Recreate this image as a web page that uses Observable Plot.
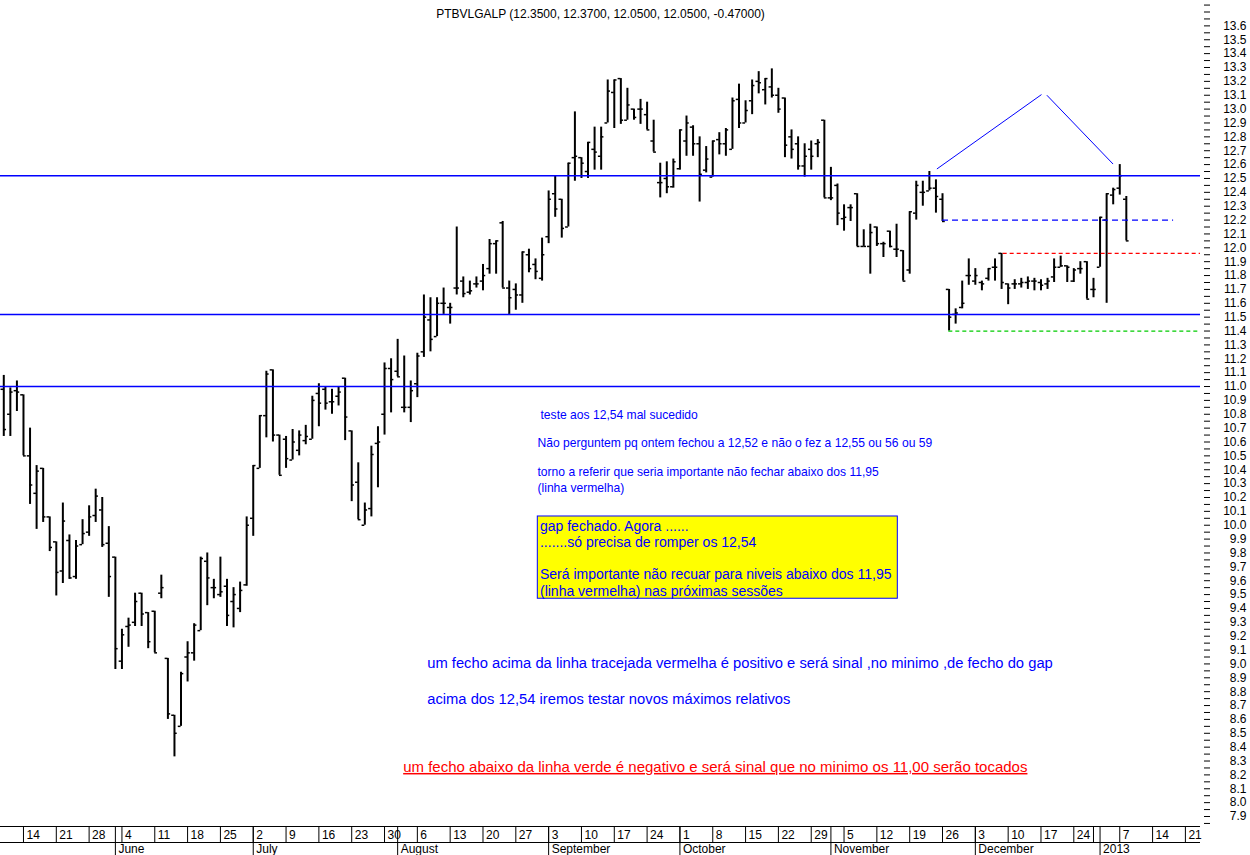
<!DOCTYPE html>
<html><head><meta charset="utf-8">
<script src="https://cdn.jsdelivr.net/npm/d3@7"></script>
<script src="https://cdn.jsdelivr.net/npm/@observablehq/plot@0.6"></script>
<style>
body{margin:0;background:#fff;}
#chart{width:1250px;height:855px;}
</style>
</head><body><div id="chart"></div>
<script>
// ---------------- data ----------------
const symbol = "PTBVLGALP";
// daily bars, 9 May 2012 .. 8 Jan 2013 (trading-day index 0..171)
const opens = [10.98,10.80,10.97,10.94,10.50,10.23,10.41,10.06,9.88,9.67,
9.89,9.63,9.86,9.95,10.07,10.11,9.87,9.77,9.02,9.27,
9.30,9.51,9.37,9.38,9.51,9.04,8.63,8.55,9.05,9.08,
9.24,9.74,9.55,9.50,9.56,9.45,9.40,9.57,10.05,10.41,
10.79,11.12,10.65,10.62,10.47,10.54,10.61,10.62,10.95,10.98,
10.89,10.93,11.06,10.68,10.31,10.00,10.12,10.59,10.80,11.13,
11.11,10.85,10.85,11.02,11.25,11.48,11.36,11.60,11.57,11.71,
11.76,11.68,11.74,11.76,11.85,12.03,12.18,11.71,11.70,11.66,
11.95,11.88,11.78,12.08,12.39,12.35,12.15,12.65,12.65,12.55,
12.71,12.66,12.90,13.12,13.22,12.92,13.00,13.00,12.96,12.77,
12.47,12.50,12.44,12.57,12.77,12.87,12.75,12.56,12.51,12.78,
12.75,12.71,13.07,12.90,13.06,13.20,13.14,13.16,13.10,13.08,
12.80,12.75,12.59,12.71,12.75,12.92,12.36,12.45,12.21,12.29,
12.39,12.01,12.01,12.15,12.03,12.12,11.99,11.98,11.84,12.25,
12.40,12.41,12.43,12.35,11.70,11.52,11.57,11.80,11.76,11.75,
11.78,11.86,11.96,11.74,11.74,11.74,11.75,11.76,11.75,11.74,
11.79,11.86,11.87,11.76,11.85,11.90,11.70,11.86,12.20,12.38,
12.43,12.35];
const highs = [11.08,10.99,11.04,10.94,10.70,10.43,10.41,10.06,9.88,10.16,
9.93,9.89,10.04,10.14,10.26,10.20,9.99,9.77,9.25,9.33,
9.51,9.51,9.37,9.38,9.64,9.04,8.63,8.94,9.16,9.29,
9.77,9.80,9.61,9.77,9.61,9.55,9.59,10.06,10.43,10.79,
11.11,11.12,10.65,10.64,10.69,10.68,10.72,10.93,11.02,11.00,
10.98,11.00,11.06,10.68,10.45,10.16,10.57,10.71,11.17,11.20,
11.34,11.22,11.04,11.24,11.66,11.64,11.64,11.71,11.60,12.15,
11.79,11.76,11.79,11.88,12.06,12.05,12.19,11.76,11.74,11.97,
11.99,11.92,12.07,12.41,12.52,12.35,12.61,12.98,12.65,12.76,
12.87,12.87,13.21,13.21,13.22,13.15,13.00,13.07,13.05,12.92,
12.61,12.62,12.64,12.85,12.95,12.88,12.80,12.73,12.77,12.83,
12.86,13.08,13.18,13.06,13.21,13.27,13.22,13.29,13.15,13.08,
12.85,12.80,12.75,12.77,12.78,12.92,12.58,12.46,12.31,12.31,
12.39,12.13,12.17,12.15,12.04,12.12,12.17,11.98,12.26,12.48,
12.48,12.55,12.49,12.39,11.70,11.56,11.76,11.92,11.85,11.76,
11.85,11.92,11.96,11.74,11.77,11.78,11.79,11.78,11.77,11.78,
11.92,11.94,11.87,11.85,11.90,11.90,11.78,12.22,12.39,12.43,
12.60,12.37];
const lows = [10.64,10.64,10.82,10.50,10.15,9.97,10.02,9.81,9.49,9.58,
9.61,9.61,9.86,9.92,10.02,9.84,9.48,8.96,8.96,9.12,
9.27,9.27,9.11,9.08,9.47,8.60,8.33,8.55,8.87,9.02,
9.24,9.42,9.47,9.48,9.27,9.26,9.37,9.56,9.92,10.41,
10.63,10.60,10.36,10.41,10.47,10.50,10.58,10.62,10.71,10.83,
10.80,10.86,10.61,10.17,10.04,10.00,10.06,10.27,10.65,10.81,
11.07,10.81,10.74,10.92,11.21,11.25,11.36,11.52,11.45,11.66,
11.64,11.66,11.71,11.69,11.81,11.81,11.71,11.52,11.55,11.60,
11.82,11.77,11.76,12.03,12.22,12.07,12.15,12.48,12.50,12.50,
12.56,12.56,12.90,12.86,12.89,12.92,12.92,12.89,12.85,12.69,
12.36,12.39,12.43,12.56,12.66,12.66,12.33,12.54,12.51,12.67,
12.66,12.71,12.86,12.90,12.96,13.11,13.03,13.08,12.97,12.65,
12.64,12.56,12.51,12.56,12.65,12.36,12.34,12.16,12.12,12.19,
12.01,12.01,11.81,12.01,11.93,12.00,11.93,11.76,11.81,12.20,
12.30,12.41,12.25,12.19,11.40,11.45,11.56,11.73,11.73,11.69,
11.76,11.76,11.70,11.59,11.70,11.71,11.70,11.69,11.69,11.70,
11.75,11.86,11.75,11.75,11.81,11.63,11.64,11.86,11.60,12.31,
12.38,12.05];
const closes = [10.69,10.96,10.96,10.50,10.29,10.39,10.06,9.84,9.66,10.03,
9.62,9.85,9.94,10.06,10.21,9.86,9.63,9.11,9.21,9.28,
9.45,9.36,9.16,9.08,9.55,8.64,8.50,8.93,9.08,9.28,
9.76,9.62,9.55,9.52,9.35,9.50,9.53,10.00,10.43,10.79,
11.09,10.65,10.36,10.48,10.60,10.65,10.64,10.90,10.88,10.88,
10.89,10.96,10.78,10.29,10.04,10.11,10.51,10.60,11.13,11.05,
11.07,10.85,10.97,11.22,11.50,11.34,11.60,11.60,11.57,11.71,
11.67,11.69,11.74,11.80,12.03,12.05,11.71,11.64,11.66,11.97,
11.85,11.83,11.95,12.35,12.28,12.14,12.61,12.66,12.61,12.76,
12.69,12.80,13.13,13.21,12.92,13.03,12.94,13.00,12.85,12.69,
12.47,12.44,12.62,12.85,12.90,12.75,12.53,12.64,12.77,12.75,
12.85,13.06,12.90,12.99,13.17,13.19,13.22,13.10,13.00,12.74,
12.71,12.59,12.66,12.66,12.76,12.36,12.36,12.25,12.22,12.29,
12.01,12.01,12.11,12.03,12.03,12.01,11.99,11.76,12.26,12.45,
12.40,12.43,12.37,12.19,11.50,11.53,11.60,11.80,11.80,11.74,
11.85,11.86,11.75,11.71,11.74,11.75,11.76,11.76,11.73,11.76,
11.86,11.87,11.86,11.84,11.85,11.63,11.70,12.22,12.39,12.42,
12.52,12.05];

// x axis: Mondays (trading-day index) and their labels
const weekIdx    = [3,8,13,18,23,28,33,38,43,48,53,58,63,68,73,78,83,88,93,98,103,108,113,118,123,128,133,138,143,148,153,158,163,166,170,175,180];
const weekLabels = ["14","21","28","4","11","18","25","2","9","16","23","30","6","13","20","27","3","10","17","24","1","8","15","22","29","5","12","19","26","3","10","17","24","","7","14","21"];
// first trading day of each month
const monthIdx    = [17,38,60,83,103,126,148,167];
const monthLabels = ["June","July","August","September","October","November","December","2013"];

// y axis
const yLabelTicks = d3.range(79, 137).map(d => d / 10);       // 7.9 .. 13.6
const yMinorTicks = d3.range(157, 276).map(d => d / 20);      // 7.85 .. 13.75

// drawn annotations (price levels and trend lines)
const supportLevels = [12.52, 11.52, 11.0];
const dashedLevels = [
  {name: "blue",  y: 12.20, from: 143.0,  to: 178.2},
  {name: "red",   y: 11.96, from: 152.24, to: 182.3},
  {name: "green", y: 11.40, from: 143.96, to: 182.3}
];
const trendPoints = [
  {seg: "a", x: 142.19, y: 12.570}, {seg: "a", x: 158.03, y: 13.103},
  {seg: "b", x: 158.94, y: 13.098}, {seg: "b", x: 168.94, y: 12.606}
];
const smallNotes = [
  {x: 81.76, y: 10.791, text: "teste aos 12,54 mal sucedido"},
  {x: 81.30, y: 10.589, text: "Não perguntem pq ontem fechou a 12,52 e não o fez a 12,55 ou 56 ou 59"},
  {x: 81.30, y: 10.380, text: "torno a referir que seria importante não fechar abaixo dos 11,95"},
  {x: 81.30, y: 10.265, text: "(linha vermelha)"}
];
const noteBox = [{x1: 81.35, x2: 136.19, y1: 10.063, y2: 9.470}];
const boxLines = [
  {x: 81.68, y: 9.993, text: "gap fechado. Agora ......"},
  {x: 81.68, y: 9.878, text: ".......só precisa de romper os 12,54"},
  {x: 81.68, y: 9.645, text: "Será importante não recuar para niveis abaixo dos 11,95"},
  {x: 81.68, y: 9.524, text: "(linha vermelha) nas próximas sessões"}
];
const bigNotes = [
  {x: 64.50, y: 9.005, text: "um fecho acima da linha tracejada vermelha é positivo e será sinal ,no minimo ,de fecho do gap"},
  {x: 64.50, y: 8.742, text: "acima dos 12,54 iremos testar novos máximos relativos"}
];
const redNotes = [
  {x: 60.84, y: 8.256, text: "um fecho abaixo da linha verde é negativo e será sinal que no minimo os 11,00 serão tocados"}
];

// ---------------- styles ----------------
const dashStyle = {
  blue:  {stroke: "#0000ff", dash: "6,4"},
  red:   {stroke: "#ff0000", dash: "4,3"},
  green: {stroke: "#00cc00", dash: "4,3"}
};
const BLUE = "#0000ff";

// ---------------- build ----------------
const bars = opens.map((o, i) => ({i, o, h: highs[i], l: lows[i], c: closes[i]}));
const n = bars.length;
const last = bars[n - 1];
const change = (closes[n - 1] - closes[n - 2]).toFixed(5);
const title = `${symbol} (${last.o.toFixed(4)}, ${last.h.toFixed(4)}, ${last.l.toFixed(4)}, ${last.c.toFixed(4)}, ${change})`;

const weekLabelMap = new Map(weekIdx.map((d, k) => [d, weekLabels[k]]));
const monthLabelMap = new Map(monthIdx.map((d, k) => [d, monthLabels[k]]));
const weekLabeled = weekIdx.filter((d, k) => weekLabels[k] !== "");

const yDomain = [7.828, 13.783];

const chart = Plot.plot({
  width: 1250,
  height: 855,
  marginTop: 0,
  marginRight: 50,
  marginBottom: 29,
  marginLeft: 0,
  style: {fontFamily: "'Liberation Sans', Arial, sans-serif", fontSize: "12px", background: "#ffffff", color: "#000000", overflow: "visible"},
  x: {domain: [-0.5, 182.3], axis: null, label: null},
  y: {domain: yDomain, axis: null, label: null},
  marks: [
    // notes
    Plot.rect(noteBox, {x1: "x1", x2: "x2", y1: "y1", y2: "y2", fill: "#ffff00", stroke: BLUE, strokeWidth: 1}),
    Plot.text(boxLines, {x: "x", y: "y", text: "text", fill: BLUE, fontSize: 14, textAnchor: "start"}),
    Plot.text(smallNotes, {x: "x", y: "y", text: "text", fill: BLUE, fontSize: 12.1, textAnchor: "start"}),
    Plot.text(bigNotes, {x: "x", y: "y", text: "text", fill: BLUE, fontSize: 14.75, textAnchor: "start"}),
    Plot.text(redNotes, {x: "x", y: "y", text: "text", fill: "#ff0000", fontSize: 15, textAnchor: "start"}),
    // OHLC bars
    Plot.ruleX(bars, {x: "i", y1: "l", y2: "h", stroke: "#000", strokeWidth: 2}),
    Plot.ruleY(bars, {y: "o", x1: d => d.i - 0.42, x2: "i", stroke: "#000", strokeWidth: 1.5}),
    Plot.ruleY(bars, {y: "c", x1: "i", x2: d => d.i + 0.42, stroke: "#000", strokeWidth: 1.5}),
    // levels
    Plot.ruleY(supportLevels, {stroke: BLUE, strokeWidth: 1.5}),
    ...dashedLevels.map(d => Plot.ruleY([d], {y: "y", x1: "from", x2: "to", stroke: dashStyle[d.name].stroke, strokeDasharray: dashStyle[d.name].dash, strokeWidth: 1.3})),
    Plot.line(trendPoints, {x: "x", y: "y", z: "seg", stroke: BLUE, strokeWidth: 1}),
    // title
    Plot.text([title], {frameAnchor: "top", dy: 9, fontSize: 12, fill: "#000"}),
    // right y axis
    Plot.axisY(yMinorTicks, {anchor: "right", tickSize: 6, dx: 3, tickFormat: () => "", label: null}),
    Plot.axisY(yLabelTicks, {anchor: "right", tickSize: 0, tickPadding: 0, textAnchor: "end", dx: 46, tickFormat: d3.format(".1f"), fontSize: 12, label: null}),
    // bottom time axis
    Plot.ruleY([yDomain[0]], {stroke: "#000", strokeWidth: 1}),
    Plot.ruleY([yDomain[0]], {stroke: "#000", strokeWidth: 1, dy: 16}),
    Plot.axisX(weekIdx, {anchor: "bottom", tickSize: 16, tickFormat: () => "", label: null}),
    Plot.axisX(monthIdx, {anchor: "bottom", tickSize: 29, tickFormat: () => "", label: null}),
    Plot.axisX(weekLabeled, {anchor: "bottom", tickSize: 0, tickPadding: 0, textAnchor: "start", dx: 3, dy: 4, tickFormat: d => weekLabelMap.get(d), fontSize: 12, label: null}),
    Plot.axisX(monthIdx, {anchor: "bottom", tickSize: 0, tickPadding: 0, textAnchor: "start", dx: 3, dy: 18, tickFormat: d => monthLabelMap.get(d), fontSize: 12, label: null})
  ]
});

chart.querySelectorAll("text").forEach(t => {
  if (t.textContent.startsWith("um fecho abaixo")) t.style.textDecoration = "underline";
});
document.getElementById("chart").appendChild(chart);
</script>
</body></html>
